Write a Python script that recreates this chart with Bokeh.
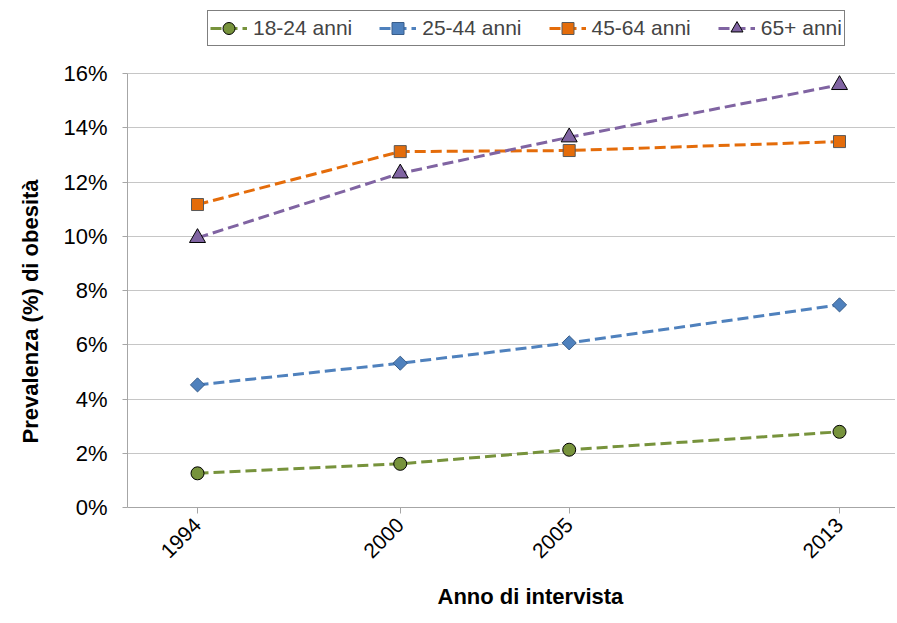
import math
from bokeh.plotting import figure
from bokeh.models import (Range1d, FixedTicker, PrintfTickFormatter, Legend, LegendItem, Title)
from bokeh.embed import file_html
from bokeh.resources import INLINE

# ---- data ----
years = [1994, 2000, 2005, 2013]
age_18_24 = [1.26, 1.61, 2.13, 2.79]
age_25_44 = [4.52, 5.32, 6.07, 7.47]
age_45_64 = [11.17, 13.12, 13.16, 13.49]
age_65_plus = [9.94, 12.32, 13.65, 15.58]
series_names = ["18-24 anni", "25-44 anni", "45-64 anni", "65+ anni"]
y_ticks = [0, 2, 4, 6, 8, 10, 12, 14, 16]
x_title = "Anno di intervista"
y_title = "Prevalenza (%)  di obesità"

FONT = "Liberation Sans"

# frame spans from the legend row down to 0%; the y axis itself only covers 0-16%
p = figure(width=895, height=623, output_backend="svg", toolbar_location=None,
           x_range=Range1d(1991.928, 2014.657), y_range=Range1d(0, 18.544),
           min_border_left=127, min_border_right=0, min_border_top=4, min_border_bottom=116)
p.outline_line_color = None
p.background_fill_color = "white"
p.border_fill_color = "white"

# axes
p.xaxis.ticker = FixedTicker(ticks=years)
p.xaxis.major_label_orientation = math.pi / 4
p.xaxis.major_label_text_font = FONT
p.xaxis.major_label_text_font_size = "21px"
p.xaxis.major_label_text_color = "black"
p.xaxis.major_label_standoff = 8
p.xaxis.axis_line_color = "#a6a6a6"
p.xaxis.major_tick_line_color = "#a6a6a6"
p.xaxis.major_tick_in = 0
p.xaxis.major_tick_out = 6
p.xaxis.minor_tick_line_color = None

p.yaxis.ticker = FixedTicker(ticks=y_ticks)
p.yaxis.bounds = (y_ticks[0], y_ticks[-1])
p.yaxis.formatter = PrintfTickFormatter(format="%d%%")
p.yaxis.major_label_text_font = FONT
p.yaxis.major_label_text_font_size = "22px"
p.yaxis.major_label_text_color = "black"
p.yaxis.major_label_standoff = 15
p.yaxis.axis_line_color = "#a6a6a6"
p.yaxis.major_tick_line_color = "#a6a6a6"
p.yaxis.major_tick_in = 0
p.yaxis.major_tick_out = 5
p.yaxis.minor_tick_line_color = None

p.xgrid.grid_line_color = None
p.ygrid.grid_line_color = "#8c8c8c"
p.ygrid.grid_line_dash = "1 1"
p.ygrid.grid_line_width = 1

# axis titles (as side titles so that they can be offset like the reference)
p.add_layout(Title(text=y_title, align="left", offset=64, standoff=32, vertical_align="top",
                   text_font=FONT, text_font_size="22px", text_font_style="bold",
                   text_color="black"), "left")
p.add_layout(Title(text=x_title, align="left", offset=310, standoff=28, vertical_align="bottom",
                   text_font=FONT, text_font_size="22px", text_font_style="bold",
                   text_color="black"), "below")

styles = [
    (age_18_24, "#77933C", "circle", 13, 0.0, "#77933C", "black"),
    (age_25_44, "#4F81BD", "square", 10, math.pi / 4, "#4F81BD", "#385D8A"),
    (age_45_64, "#E46C0A", "square", 12, 0.0, "#E46C0A", "#595959"),
    (age_65_plus, "#8064A2", "triangle", 16, 0.0, "#8064A2", "black"),
]

items = []
for name, (vals, col, marker, size, ang, fill, edge) in zip(series_names, styles):
    lr = p.line(years, vals, line_color=col, line_width=3, line_dash="11 5")
    sr = p.scatter(years, vals, marker=marker, size=size, angle=ang, fill_color=fill,
                   line_color=edge, line_width=1)
    items.append(LegendItem(label=name, renderers=[lr, sr]))

legend = Legend(items=items, orientation="horizontal", location=(80, 461),
                label_text_font=FONT, label_text_font_size="21px",
                glyph_width=37, glyph_height=30, label_standoff=6, spacing=27,
                padding=2, margin=0, border_line_color="black", border_line_width=1,
                background_fill_color="white", background_fill_alpha=1)
p.add_layout(legend, "center")

open("out.html", "w").write(file_html(p, INLINE))
